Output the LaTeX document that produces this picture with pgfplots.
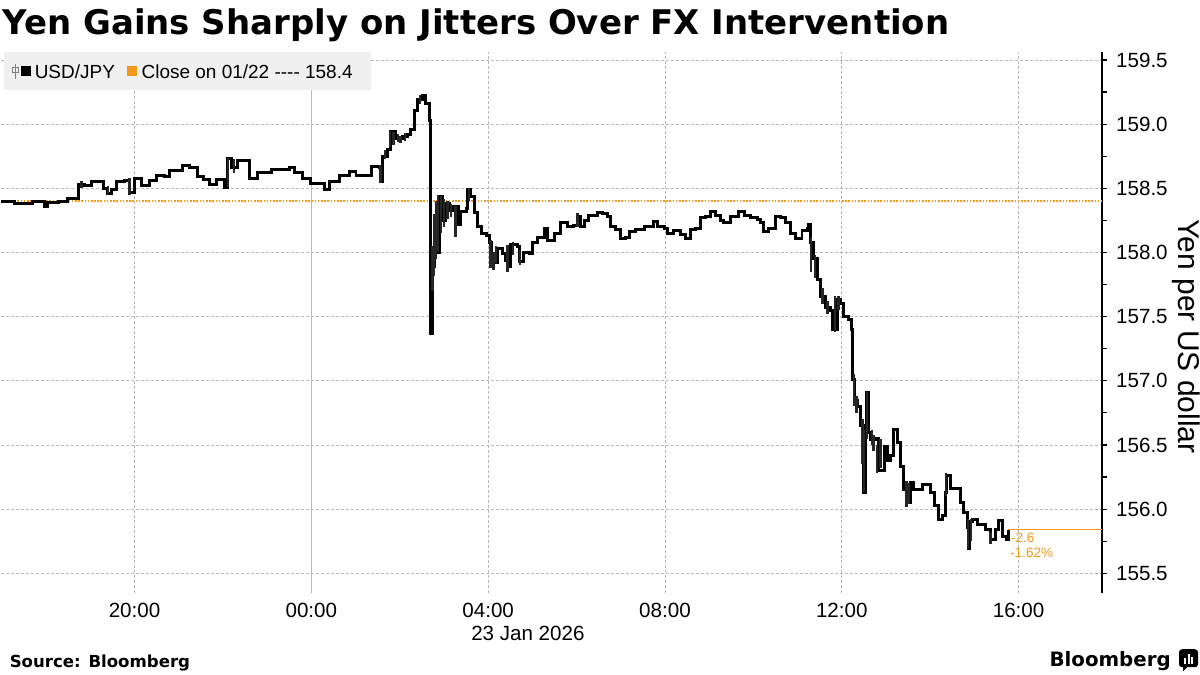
\documentclass[border=0pt]{standalone}
\usepackage{fontspec}
\setmainfont{Liberation Sans}
\newfontfamily\titlefont{DejaVu Sans}
\usepackage{pgfplots}
\usepackage{pgfplotstable}
\pgfplotsset{compat=1.18}
\definecolor{bbgorange}{RGB}{242,153,27}
\definecolor{gridgray}{RGB}{185,185,185}
\definecolor{leggray}{RGB}{240,240,240}

\pgfplotstableread{
t v
-7.01 158.40
-6.71 158.38
-6.30 158.40
-6.03 158.36
-5.98 158.39
-5.73 158.40
-5.51 158.42
-5.26 158.53
-5.13 158.52
-4.98 158.55
-4.83 158.55
-4.71 158.50
-4.62 158.46
-4.53 158.49
-4.41 158.55
-4.23 158.56
-4.11 158.47
-4.00 158.58
-3.85 158.52
-3.66 158.56
-3.51 158.60
-3.32 158.59
-3.21 158.64
-2.91 158.675
-2.76 158.66
-2.57 158.59
-2.45 158.57
-2.31 158.53
-2.15 158.57
-1.97 158.51
-1.89 158.735
-1.81 158.66
-1.66 158.72
-1.48 158.72
-1.40 158.58
-1.21 158.62
-0.91 158.65
-0.50 158.66
-0.38 158.62
-0.19 158.58
-0.01 158.54
0.29 158.49
0.41 158.55
0.63 158.60
0.86 158.63
1.01 158.60
1.27 158.60
1.35 158.67
1.54 158.66
1.58 158.55
1.61 158.75
1.73 158.80
1.80 158.94
1.91 158.89
2.07 158.90
2.18 158.92
2.25 158.96
2.33 159.11
2.41 159.19
2.52 159.22
2.59 159.16
2.67 159.03
2.705 157.37
2.74 157.89
2.78 158.05
2.82 158.00
2.89 158.44
2.97 158.25
3.04 158.38
3.12 158.33
3.20 158.36
3.32 158.22
3.38 158.32
3.50 158.34
3.53 158.49
3.61 158.44
3.68 158.31
3.77 158.20
3.84 158.15
3.97 158.13
4.02 158.08
4.08 157.96
4.14 157.92
4.21 158.03
4.33 157.99
4.40 157.94
4.44 157.89
4.51 158.06
4.66 158.05
4.70 157.93
4.81 158.00
4.93 157.99
5.00 158.08
5.12 158.12
5.27 158.19
5.34 158.09
5.46 158.09
5.49 158.15
5.64 158.23
5.79 158.20
5.94 158.21
6.02 158.28
6.09 158.20
6.17 158.25
6.28 158.29
6.47 158.31
6.59 158.30
6.70 158.28
6.77 158.20
6.89 158.18
7.00 158.11
7.11 158.12
7.19 158.16
7.34 158.18
7.53 158.20
7.75 158.24
7.83 158.20
7.98 158.19
8.05 158.15
8.20 158.17
8.35 158.14
8.47 158.11
8.58 158.18
8.69 158.19
8.81 158.27
8.92 158.28
9.03 158.32
9.15 158.29
9.26 158.25
9.33 158.23
9.48 158.28
9.67 158.32
9.79 158.29
9.94 158.27
10.09 158.26
10.16 158.23
10.24 158.16
10.35 158.19
10.50 158.28
10.61 158.27
10.73 158.23
10.84 158.15
10.95 158.11
11.10 158.17
11.22 158.19
11.25 158.22
11.29 158.08
11.37 157.95
11.44 157.79
11.52 157.66
11.63 157.57
11.74 157.55
11.80 157.40
11.90 157.63
11.97 157.60
12.05 157.50
12.16 157.48
12.21 157.40
12.25 157.01
12.29 156.85
12.35 156.80
12.42 156.65
12.50 156.13
12.53 156.60
12.57 156.91
12.61 156.60
12.65 156.54
12.76 156.55
12.84 156.30
12.96 156.49
13.03 156.38
13.11 156.42
13.18 156.62
13.26 156.52
13.33 156.33
13.40 156.15
13.48 156.05
13.55 156.21
13.62 156.15
13.82 156.19
14.00 156.13
14.09 156.03
14.19 155.92
14.27 155.95
14.34 156.13
14.38 156.26
14.46 156.16
14.62 156.16
14.68 156.05
14.76 155.97
14.84 155.86
14.87 155.69
14.90 155.90
14.95 155.92
15.06 155.88
15.25 155.84
15.36 155.76
15.47 155.84
15.55 155.91
15.63 155.79
15.72 155.76
15.77 155.84
}\usdjpy

% high-low ranges of the busier bars: time, low, high
\pgfplotstableread{
t lo hi
-5.20 158.50 158.56
-4.60 158.45 158.52
-4.11 158.45 158.58
-1.89 158.51 158.74
-1.75 158.62 158.73
1.56 158.54 158.68
1.66 158.73 158.80
1.78 158.82 158.95
1.86 158.84 158.94
1.96 158.86 158.92
2.02 158.85 158.91
2.12 158.87 158.93
2.46 159.16 159.23
2.745 157.70 158.05
2.78 157.82 158.30
2.82 157.95 158.40
2.86 158.00 158.45
2.93 158.15 158.44
3.00 158.20 158.42
3.08 158.26 158.40
3.16 158.28 158.38
3.26 158.12 158.36
3.57 158.40 158.50
4.05 157.88 158.10
4.12 157.86 158.00
4.18 157.92 158.05
4.44 157.85 158.06
4.56 157.98 158.08
4.72 157.90 158.02
6.02 158.20 158.31
11.31 157.85 158.12
11.40 157.80 157.98
11.56 157.60 157.72
11.68 157.52 157.62
11.84 157.38 157.66
11.93 157.55 157.66
12.27 156.80 157.05
12.33 156.75 156.88
12.47 156.35 156.70
12.50 156.13 156.62
12.57 156.55 156.91
12.68 156.50 156.62
12.72 156.45 156.58
12.80 156.28 156.50
12.88 156.32 156.55
13.46 156.02 156.22
13.52 156.04 156.20
14.36 156.10 156.28
14.86 155.69 155.92
14.92 155.75 155.92
15.36 155.73 155.82
}\ranges

\begin{document}
\begin{tikzpicture}
\begin{axis}[
  at={(0pt,-297pt)}, anchor=south west,
  scale only axis, width=551pt, height=271.15pt,
  xmin=-7.012, xmax=17.89, ymin=155.344, ymax=159.565,
  axis y line*=right, axis x line*=bottom,
  x axis line style={draw=none},
  y axis line style={black, line width=0.75pt, -},
  xtick={-4,0,4,8,12,16},
  xticklabels={20:00,00:00,04:00,08:00,12:00,16:00},
  xtick style={draw=none},
  xticklabel style={font=\fontsize{10.3}{12}\selectfont, yshift=1pt},
  ytick={155.5,156,...,159.5},
  minor ytick={155.75,156.25,...,159.25},
  tick align=outside,
  major tick length=2.5pt, minor tick length=2.5pt,
  ytick style={black, line width=0.6pt},
  minor tick style={black, line width=0.5pt},
  yticklabel style={font=\fontsize{10.3}{12}\selectfont, /pgf/number format/fixed, /pgf/number format/fixed zerofill, /pgf/number format/precision=1, xshift=1pt},
  /pgf/number format/assume math mode=true,
  ymajorgrids, xmajorgrids,
  major grid style={gridgray, dash pattern=on 1.5pt off 1pt, line width=0.45pt},
  clip=false,
]
\draw[gray!55, line width=0.6pt] (axis cs:0,155.344) -- (axis cs:0,159.565);
\addplot[bbgorange, line width=1.3pt, dash pattern=on 0.8pt off 0.8pt] coordinates {(-7.012,158.4) (17.89,158.4)};
\addplot[bbgorange, line width=0.8pt] coordinates {(15.77,155.84) (17.89,155.84)};
\addplot[black, line width=1.5pt, const plot] table[x=t, y=v] {\usdjpy};
\addplot[draw=none, mark=none, forget plot,
  error bars/.cd, y dir=plus, y explicit, error mark=none,
  error bar style={black!85, line width=1.2pt}]
  table[x=t, y=lo, y error expr=\thisrow{hi}-\thisrow{lo}] {\ranges};
\node[anchor=north west, inner sep=0pt, text=bbgorange, font=\fontsize{6.8}{8}\selectfont] at (axis cs:15.82,155.82) {-2.6};
\node[anchor=north west, inner sep=0pt, text=bbgorange, font=\fontsize{6.8}{8}\selectfont] at (axis cs:15.80,155.70) {-1.62\%};
\end{axis}

\begin{scope}[x=0.5pt,y=-0.5pt]
\path[use as bounding box] (0,0) rectangle (1200,675);

% title
\node[anchor=base west, inner sep=0pt, font=\titlefont\bfseries\fontsize{17}{20}\selectfont] at (1,35) {Yen Gains Sharply on Jitters Over FX Intervention};

% legend
\fill[leggray] (3,52) rectangle (370,90);
\draw[gray, line width=0.4pt] (14,64) -- (14,79);
\draw[gray, line width=0.4pt] (11,67) rectangle (17,72);
\fill[black] (20,66) rectangle (30,76);
\node[anchor=west, inner sep=0pt, font=\fontsize{9.5}{11}\selectfont] at (33,71.5) {USD/JPY};
\fill[bbgorange] (126,66) rectangle (136,76);
\node[anchor=west, inner sep=0pt, font=\fontsize{9.5}{11}\selectfont] at (140,71.5) {Close on 01/22 {-}{-}{-}{-} 158.4};

% x date
\node[anchor=base west, inner sep=0pt, font=\fontsize{10.3}{12}\selectfont] at (470,641) {23 Jan 2026};

% y label
\node[rotate=-90, inner sep=0pt, font=\fontsize{15}{17}\selectfont] at (1186,337) {Yen per US dollar};

% source
\node[anchor=base west, inner sep=0pt, font=\titlefont\bfseries\fontsize{8.3}{10}\selectfont] at (8,668) {Source: Bloomberg};

% Bloomberg logo
\node[anchor=base west, inner sep=0pt, font=\titlefont\bfseries\fontsize{9.9}{12}\selectfont] at (1049,667) {Bloomberg};
\fill[black, rounded corners=1.5pt] (1179,650) rectangle (1198,668);
\fill[black] (1183,667) -- (1188,667) -- (1183,672) -- cycle;
\fill[white] (1184,659) rectangle (1186,665);
\fill[white] (1187.5,655) rectangle (1189.5,665);
\fill[white] (1191,658) rectangle (1193,665);
\end{scope}
\end{tikzpicture}
\end{document}
